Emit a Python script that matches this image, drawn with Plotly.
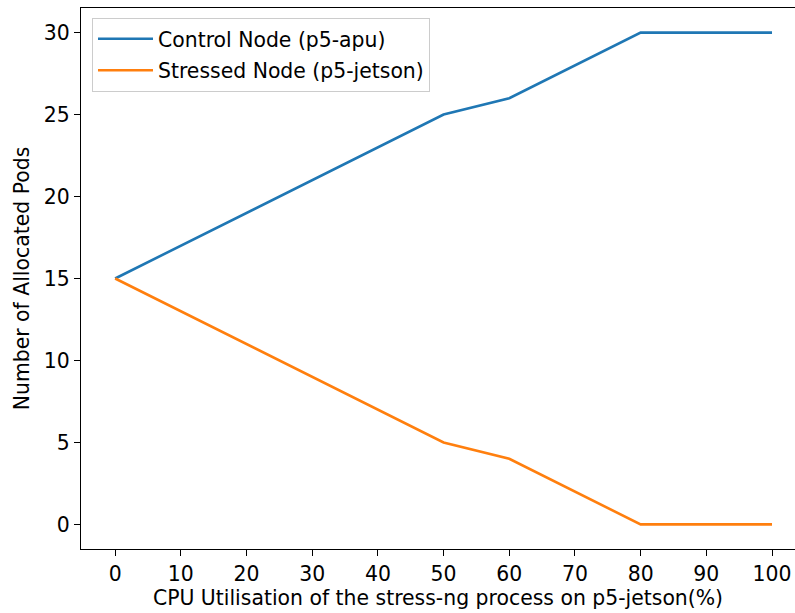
import plotly.graph_objects as go

# CPU load applied by stress-ng on p5-jetson (%)
cpu_util = [0, 10, 20, 30, 40, 50, 60, 70, 80, 90, 100]
# Pods scheduled on each node
control_pods = [15, 17, 19, 21, 23, 25, 26, 28, 30, 30, 30]
stressed_pods = [15, 13, 11, 9, 7, 5, 4, 2, 0, 0, 0]

x_ticks = [0, 10, 20, 30, 40, 50, 60, 70, 80, 90, 100]
y_ticks = [0, 5, 10, 15, 20, 25, 30]

FONT = "DejaVu Sans"
TEXT_SIZE = 20.4

fig = go.Figure()
fig.add_trace(go.Scatter(
    x=cpu_util, y=control_pods, mode="lines",
    name="Control Node (p5-apu)", legendgroup="a",
    line=dict(color="#1f77b4", width=2.6),
))
fig.add_trace(go.Scatter(
    x=cpu_util, y=stressed_pods, mode="lines",
    name="Stressed Node (p5-jetson)", legendgroup="b",
    line=dict(color="#ff7f0e", width=2.6),
))

axis_common = dict(
    showgrid=False, zeroline=False,
    showline=True, linecolor="black", linewidth=1.4,
    ticks="outside", ticklen=6, tickwidth=1.4, tickcolor="black",
    tickfont=dict(family=FONT, size=TEXT_SIZE, color="black"),
)

fig.update_layout(
    width=795, height=613,
    margin=dict(l=81, r=0, t=8, b=64),
    paper_bgcolor="white", plot_bgcolor="white",
    font=dict(family=FONT, size=TEXT_SIZE, color="black"),
    xaxis=dict(
        **axis_common,
        range=[-5.2, 103.5],
        tickvals=x_ticks,
        mirror=True,
        title=dict(text="CPU Utilisation of the stress-ng process on p5-jetson(%)",
                   font=dict(family=FONT, size=TEXT_SIZE, color="black"), standoff=5),
    ),
    yaxis=dict(
        **axis_common,
        range=[-1.5, 31.5],
        tickvals=y_ticks,
        title=dict(text="Number of Allocated Pods",
                   font=dict(family=FONT, size=TEXT_SIZE, color="black"), standoff=8),
    ),
    legend=dict(
        x=0.0154, y=0.9815, xanchor="left", yanchor="top",
        bgcolor="rgba(255,255,255,0.8)", bordercolor="#cccccc", borderwidth=1,
        font=dict(family=FONT, size=TEXT_SIZE, color="black"),
        traceorder="grouped", tracegroupgap=2, itemwidth=55,
    ),
    showlegend=True,
)

fig.write_html("out.html")
